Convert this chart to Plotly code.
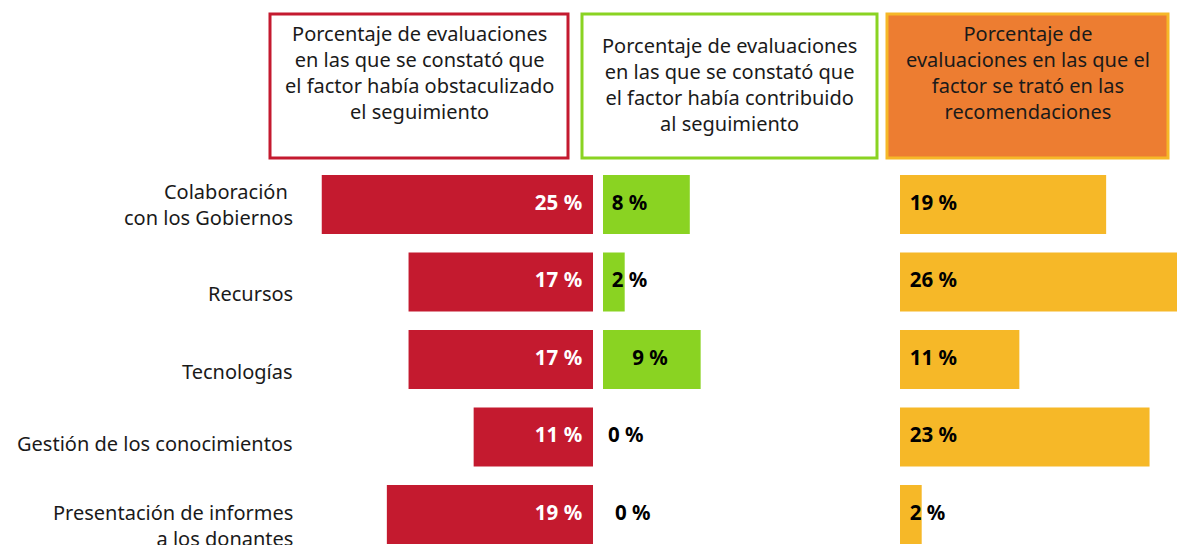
import plotly.graph_objects as go

# ---------------- data ----------------
categories = [
    "Colaboración\u00a0<br>con los Gobiernos",
    "Recursos",
    "Tecnologías",
    "Gestión de los conocimientos",
    "Presentación de informes<br>a los donantes",
]
hindered = [25, 17, 17, 11, 19]       # obstaculizado
contributed = [8, 2, 9, 0, 0]         # contribuido
recommended = [19, 26, 11, 23, 2]     # recomendaciones

header_texts = [
    "Porcentaje de evaluaciones<br>en las que se constató que<br>el factor había obstaculizado<br>el seguimiento",
    "Porcentaje de evaluaciones<br>en las que se constató que<br>el factor había contribuido<br>al seguimiento",
    "Porcentaje de<br>evaluaciones en las que el<br>factor se trató en las<br>recomendaciones",
]

# ---------------- style ----------------
W, H = 1177, 545
PX = 10.85  # pixels per percentage point
RED = "#C41A2F"
GREEN = "#8AD322"
YELLOW = "#F6B828"
ORANGE = "#ED7D31"
FONT = "Noto Sans"
TXT = "#1a1a1a"
TSIZE = 20
LSIZE = 20.5

# pixel offset (downwards) of each label block centre from its row centre
label_offsets = [0, 12, 12.5, 6.5, 10.5]
green_label_x = [0.8, 0.8, 2.7, 0.45, 1.1]
header_centres = [73, 84.5, 72.5]

fig = go.Figure()

def px(x):
    return x / W

# axes geometry
red_l, red_r = 300, 593
grn_l, grn_r = 603, 890
yel_l, yel_r = 900, 1177
band = 77.5
top_band = 204.5 - band / 2
y_dom_top = 1 - top_band / H
y_bottom_val = 4.5 - ((204.5 + 4 * band + band / 2) - H) / band

common_bar = dict(orientation="h", width=0.76, marker_line_width=0,
                  hoverinfo="skip", showlegend=False)

fig.add_trace(go.Bar(x=hindered, y=categories, xaxis="x", yaxis="y",
                     marker_color=RED, **common_bar))
fig.add_trace(go.Bar(x=contributed, y=categories, xaxis="x2", yaxis="y",
                     marker_color=GREEN, **common_bar))
fig.add_trace(go.Bar(x=recommended, y=categories, xaxis="x3", yaxis="y",
                     marker_color=YELLOW, **common_bar))

lab_font = dict(family=FONT, size=LSIZE)

fig.add_trace(go.Scatter(
    x=[1.0] * len(categories), y=categories, xaxis="x", yaxis="y",
    mode="text", text=[f"<b>{v} %</b>" for v in hindered],
    textposition="middle left", textfont=dict(lab_font, color="white"),
    hoverinfo="skip", showlegend=False, cliponaxis=False))
fig.add_trace(go.Scatter(
    x=green_label_x, y=categories, xaxis="x2", yaxis="y",
    mode="text", text=[f"<b>{v} %</b>" for v in contributed],
    textposition="middle right", textfont=dict(lab_font, color="black"),
    hoverinfo="skip", showlegend=False, cliponaxis=False))
fig.add_trace(go.Scatter(
    x=[0.9] * len(categories), y=categories, xaxis="x3", yaxis="y",
    mode="text", text=[f"<b>{v} %</b>" for v in recommended],
    textposition="middle right", textfont=dict(lab_font, color="black"),
    hoverinfo="skip", showlegend=False, cliponaxis=False))

hidden = dict(visible=False, fixedrange=True)
fig.update_layout(
    width=W, height=H,
    margin=dict(l=0, r=0, t=0, b=0),
    paper_bgcolor="white", plot_bgcolor="white",
    barmode="overlay",
    font=dict(family=FONT, size=TSIZE, color=TXT),
    xaxis=dict(domain=[px(red_l), px(red_r)],
               range=[(red_r - red_l) / PX, 0], anchor="y", **hidden),
    xaxis2=dict(domain=[px(grn_l), px(grn_r)],
                range=[0, (grn_r - grn_l) / PX], anchor="y", **hidden),
    xaxis3=dict(domain=[px(yel_l), 1],
                range=[0, (yel_r - yel_l) / PX], anchor="y", **hidden),
    yaxis=dict(domain=[0, y_dom_top], type="category",
               categoryarray=categories, categoryorder="array",
               range=[y_bottom_val, -0.5], showticklabels=False,
               showgrid=False, zeroline=False, showline=False,
               fixedrange=True),
)

# category labels
for cat, off in zip(categories, label_offsets):
    fig.add_annotation(xref="paper", yref="y", x=px(295), y=cat,
                       xanchor="right", yanchor="middle", yshift=-off,
                       text=cat, showarrow=False, align="right",
                       font=dict(family=FONT, size=TSIZE, color=TXT))

# header boxes
boxes = [
    dict(x0=270, x1=568, line=RED, fill="white"),
    dict(x0=582, x1=877, line=GREEN, fill="white"),
    dict(x0=887, x1=1168, line=YELLOW, fill=ORANGE),
]
for b, txt, cy in zip(boxes, header_texts, header_centres):
    fig.add_shape(type="rect", xref="paper", yref="paper",
                  x0=px(b["x0"]), x1=px(b["x1"]),
                  y0=1 - 158 / H, y1=1 - 14 / H,
                  line=dict(color=b["line"], width=3),
                  fillcolor=b["fill"], layer="below")
    fig.add_annotation(xref="paper", yref="paper",
                       x=px((b["x0"] + b["x1"]) / 2), y=1 - cy / H,
                       xanchor="center", yanchor="middle",
                       text=txt, showarrow=False, align="center",
                       font=dict(family=FONT, size=TSIZE, color=TXT))

fig.write_html("out.html",
               config={"displayModeBar": False},
               post_script="document.body.style.margin='0';"
                           "document.body.style.padding='0';")
